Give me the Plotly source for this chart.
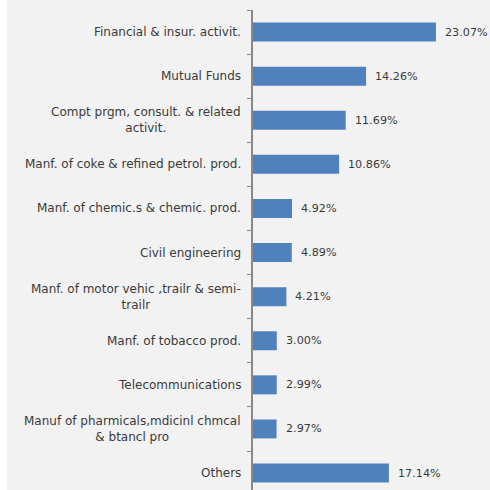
import plotly.graph_objects as go

# Share of total, by sector (top to bottom)
categories = [
    "Financial & insur. activit.",
    "Mutual Funds",
    "Compt prgm, consult. & related<br>activit.",
    "Manf. of coke & refined petrol. prod.",
    "Manf. of chemic.s & chemic. prod.",
    "Civil engineering",
    "Manf. of motor vehic ,trailr & semi-<br>trailr",
    "Manf. of tobacco prod.",
    "Telecommunications",
    "Manuf of pharmicals,mdicinl chmcal<br>& btancl pro",
    "Others",
]
values = [23.07, 14.26, 11.69, 10.86, 4.92, 4.89, 4.21, 3.00, 2.99, 2.97, 17.14]
value_labels = [f"{v:.2f}%" for v in values]

FONT = "DejaVu Sans"
TEXT_COLOR = "#3A3A3A"
BAR_COLOR = "#4F81BD"
AXIS_COLOR = "#898989"

W, H = 490, 490
LEFT, TOP = 253, 10

fig = go.Figure(
    go.Bar(
        x=values,
        y=categories,
        orientation="h",
        marker=dict(color=BAR_COLOR, line=dict(width=0)),
        hoverinfo="skip",
    )
)

# value labels just past each bar end
for cat, v, lab in zip(categories, values, value_labels):
    fig.add_annotation(
        x=v, y=cat, xref="x", yref="y", text=lab, showarrow=False,
        xanchor="left", yanchor="middle", xshift=7,
        font=dict(family=FONT, size=11.2, color=TEXT_COLOR),
    )
    # category names, centred line by line, right-aligned against the axis
    fig.add_annotation(
        x=0, y=cat, xref="x", yref="y", text=cat, showarrow=False,
        xanchor="right", yanchor="middle", xshift=-10, align="center",
        font=dict(family=FONT, size=12, color=TEXT_COLOR),
    )

plot_w = W - LEFT
px_per_unit = 7.93
n = len(categories)
band = 44.1
bottom_idx = (n - 1) + (H - (TOP + band * 0.5 + band * (n - 1))) / band

# white strip along the left edge
fig.add_shape(
    type="rect", xref="paper", yref="paper",
    x0=-LEFT / plot_w - 0.01, x1=(7 - LEFT) / plot_w, y0=-0.1, y1=1.1,
    fillcolor="white", line=dict(width=0), layer="below",
)

fig.update_layout(
    width=W, height=H,
    margin=dict(l=LEFT, r=0, t=TOP, b=0, pad=0),
    paper_bgcolor="#F2F2F2",
    plot_bgcolor="#F2F2F2",
    showlegend=False,
    bargap=0.57,
    xaxis=dict(
        range=[0, plot_w / px_per_unit],
        visible=False, showgrid=False, zeroline=False,
    ),
    yaxis=dict(
        type="category",
        categoryorder="array", categoryarray=categories,
        range=[bottom_idx, -0.5],
        showticklabels=False,
        showline=True, linecolor=AXIS_COLOR, linewidth=1.5,
        ticks="outside", ticklen=4, tickcolor=AXIS_COLOR, tickwidth=1,
        tickson="boundaries",
        showgrid=False, zeroline=False,
    ),
)

fig.write_html("out.html")
